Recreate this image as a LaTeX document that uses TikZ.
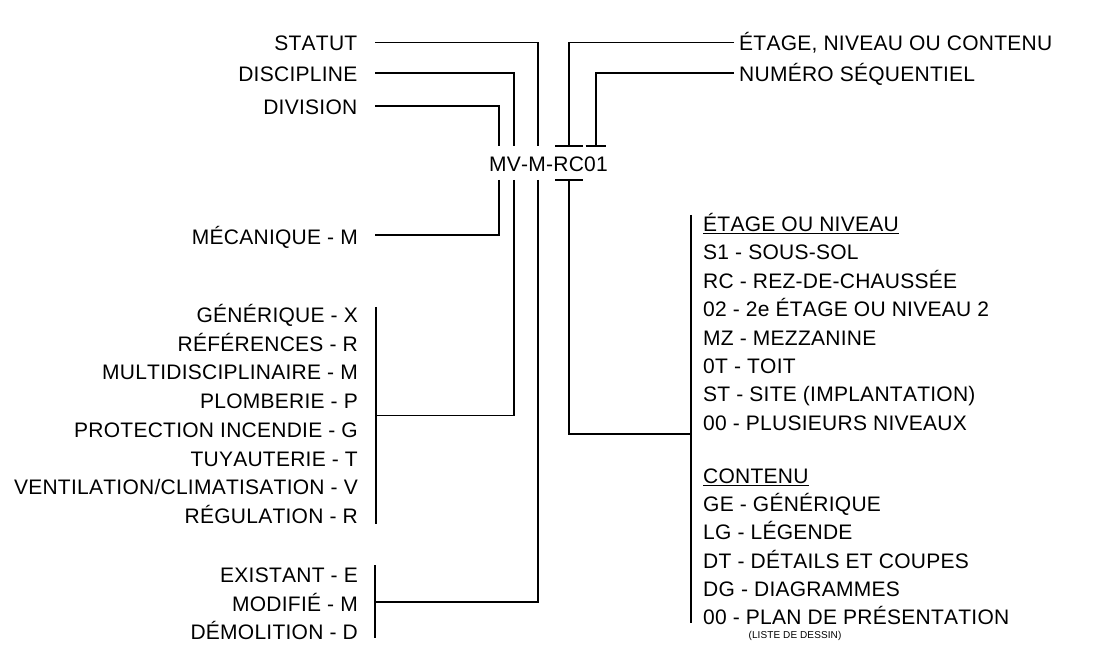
\documentclass[tikz,border=0pt]{standalone}
\usepackage{fontspec}
\setmainfont{Liberation Sans}[Kerning=Off, LetterSpace=1.2]
\begin{document}
\begin{tikzpicture}[x=1pt, y=-1pt, line join=miter,
    wire/.style={line width=1.7pt},
    lbl/.style={inner sep=0pt, text height=15pt, text depth=0pt, font=\fontsize{21}{25}\selectfont},
    tiny/.style={inner sep=0pt, font=\fontsize{10}{12}\selectfont}]
  \useasboundingbox (0,0) rectangle (1106,668);
  \path
  % upper left brackets
  (375,42.5) coordinate (A1) (537.7,42.5) coordinate (A2) (537.7,146) coordinate (A3)
  (375,73.3) coordinate (B1) (514,73.3) coordinate (B2) (514,146) coordinate (B3)
  (375,105.7) coordinate (C1) (499.3,105.7) coordinate (C2) (499.3,146) coordinate (C3)
  % upper right brackets
  (734,42.5) coordinate (E1) (569,42.5) coordinate (E2) (569,146) coordinate (E3)
  (555,146) coordinate (E4) (582.7,146) coordinate (E5)
  (734,73.3) coordinate (F1) (595.7,73.3) coordinate (F2) (595.7,146) coordinate (F3)
  (585.7,146) coordinate (F4) (605.7,146) coordinate (F5)
  % lower brackets
  (499.3,180) coordinate (M1) (499.3,235) coordinate (M2) (375,235) coordinate (M3)
  (514,180) coordinate (D1) (514,415.5) coordinate (D2) (376,415.5) coordinate (D3)
  (376,307) coordinate (D4) (376,524) coordinate (D5)
  (537.7,180) coordinate (T1) (537.7,602) coordinate (T2) (375,602) coordinate (T3)
  (375,565) coordinate (T4) (375,638) coordinate (T5)
  (569,180) coordinate (N1) (569,434) coordinate (N2) (691,434) coordinate (N3)
  (691,215) coordinate (N4) (691,623) coordinate (N5)
  (555,180) coordinate (N6) (582.7,180) coordinate (N7)
  ;
  \draw[wire] (A1)--(A2)--(A3);
  \draw[wire] (B1)--(B2)--(B3);
  \draw[wire] (C1)--(C2)--(C3);
  \draw[wire] (E1)--(E2)--(E3) (E4)--(E5);
  \draw[wire] (F1)--(F2)--(F3) (F4)--(F5);
  \draw[wire] (M1)--(M2)--(M3);
  \draw[wire] (D1)--(D2)--(D3) (D4)--(D5);
  \draw[wire] (T1)--(T2)--(T3) (T4)--(T5);
  \draw[wire] (N1)--(N2)--(N3) (N4)--(N5) (N6)--(N7);

  \node[lbl] (code) at (548.5,164) {MV-M-RC01};
  \node[lbl, anchor=east] (statut) at (357.5,43.5) {STATUT};
  \node[lbl, anchor=east] (discipline) at (357.5,74.3) {DISCIPLINE};
  \node[lbl, anchor=east] (division) at (357.5,106.7) {DIVISION};
  \node[lbl, anchor=east] (mecanique) at (358,237) {MÉCANIQUE - M};
  \node[lbl, anchor=west] (etage) at (739,43.5) {ÉTAGE, NIVEAU OU CONTENU};
  \node[lbl, anchor=west] (numero) at (739,74.3) {NUMÉRO SÉQUENTIEL};

  \foreach \t [count=\i from 0] in {GÉNÉRIQUE - X, RÉFÉRENCES - R, MULTIDISCIPLINAIRE - M,
      PLOMBERIE - P, PROTECTION INCENDIE - G, TUYAUTERIE - T,
      VENTILATION/CLIMATISATION - V, RÉGULATION - R}{
    \node[lbl, anchor=east] (disc\i) at (358,{315+28.7*\i}) {\t};
  }
  \foreach \t [count=\i from 0] in {EXISTANT - E, MODIFIÉ - M, DÉMOLITION - D}{
    \node[lbl, anchor=east] (stat\i) at (358,{575+28.5*\i}) {\t};
  }
  \foreach \t [count=\i from 0] in {\underline{ÉTAGE OU NIVEAU}, S1 - SOUS-SOL,
      RC - REZ-DE-CHAUSSÉE, 02 - 2e ÉTAGE OU NIVEAU 2, MZ - MEZZANINE, 0T - TOIT,
      ST - SITE (IMPLANTATION), 00 - PLUSIEURS NIVEAUX}{
    \node[lbl, anchor=west] (niv\i) at (703,{224+28.4*\i}) {\t};
  }
  \foreach \t [count=\i from 0] in {\underline{CONTENU}, GE - GÉNÉRIQUE, LG - LÉGENDE,
      DT - DÉTAILS ET COUPES, DG - DIAGRAMMES, 00 - PLAN DE PRÉSENTATION}{
    \node[lbl, anchor=west] (cont\i) at (703,{476+28.2*\i}) {\t};
  }
  \node[tiny] (liste) at (795,636) {(LISTE DE DESSIN)};
\end{tikzpicture}
\end{document}
